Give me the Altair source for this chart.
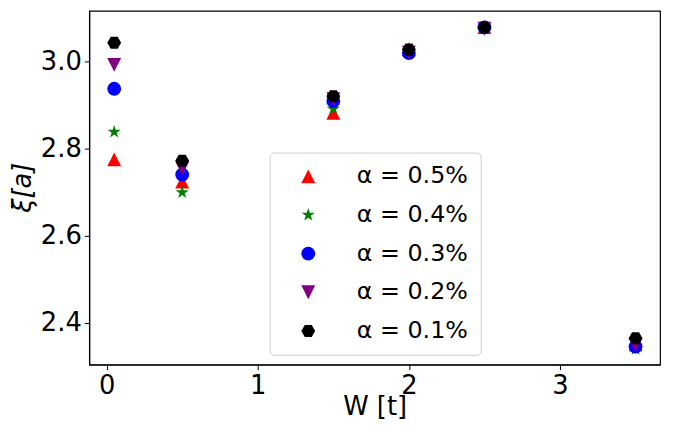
import altair as alt
import pandas as pd
import math

W = [0.05, 0.5, 1.5, 2.0, 2.5, 3.5]
a05 = [2.776, 2.725, 2.883, 3.029, 3.080, 2.351]
a04 = [2.839, 2.700, 2.892, 3.025, 3.078, 2.340]
a03 = [2.938, 2.741, 2.910, 3.020, 3.079, 2.346]
a02 = [2.993, 2.755, 2.914, 3.021, 3.076, 2.349]
a01 = [3.044, 2.773, 2.921, 3.028, 3.079, 2.365]

labels = ["α = 0.5%", "α = 0.4%", "α = 0.3%", "α = 0.2%", "α = 0.1%"]
colors = ["red", "green", "blue", "purple", "black"]

# marker outlines in the unit box [-1, 1]
tri_up = "M0,-1L1,1L-1,1Z"
tri_down = "M0,1L1,-1L-1,-1Z"
circle = "circle"
star_pts = []
for k in range(10):
    r = 1.0 if k % 2 == 0 else 0.382
    ang = math.radians(-90 + 36 * k)
    star_pts.append(f"{r*math.cos(ang):.3f},{r*math.sin(ang):.3f}")
star = "M" + "L".join(star_pts) + "Z"
hex_pts = []
for k in range(6):
    ang = math.radians(60 * k)
    hex_pts.append(f"{math.cos(ang):.3f},{math.sin(ang):.3f}")
hexagon = "M" + "L".join(hex_pts) + "Z"
shapes = [tri_up, star, circle, tri_down, hexagon]

rows = []
for lab, vals in zip(labels, [a05, a04, a03, a02, a01]):
    for w, v in zip(W, vals):
        rows.append({"W": w, "xi": v, "series": lab})
df = pd.DataFrame(rows)

FONT = "DejaVu Sans"

chart = alt.Chart(df).mark_point(filled=True, opacity=1, size=196, strokeWidth=0).encode(
    x=alt.X("W:Q", scale=alt.Scale(domain=[-0.115, 3.662], nice=False, zero=False),
            axis=alt.Axis(title="W [t]", values=[0, 1, 2, 3], format="d", grid=False,
                          labelFontSize=26, titleFontSize=26, labelFont=FONT, titleFont=FONT,
                          titleFontWeight="normal", labelColor="black", titleColor="black",
                          tickColor="black", domainColor="black", tickSize=5, labelPadding=3,
                          titleBaseline="alphabetic", titleY=50)),
    y=alt.Y("xi:Q", scale=alt.Scale(domain=[2.3045, 3.117], nice=False, zero=False),
            axis=alt.Axis(title="ξ[a]", values=[2.4, 2.6, 2.8, 3.0], format=".1f", grid=False,
                          labelFontSize=26, titleFontSize=26, labelFont=FONT, titleFont=FONT,
                          titleFontWeight="normal", titleFontStyle="italic",
                          labelColor="black", titleColor="black",
                          tickColor="black", domainColor="black", tickSize=5, labelPadding=3,
                          titleX=-54, titleY=178)),
    color=alt.Color("series:N", scale=alt.Scale(domain=labels, range=colors),
                    legend=alt.Legend(title=None, orient="none", legendX=182, legendY=143,
                                      fillColor="white", strokeColor="#cccccc", cornerRadius=4,
                                      padding=12, labelFontSize=24, labelFont=FONT,
                                      labelColor="black", symbolSize=196, symbolOffset=15,
                                      labelOffset=37, rowPadding=15, symbolStrokeWidth=0)),
    shape=alt.Shape("series:N", scale=alt.Scale(domain=labels, range=shapes)),
).properties(
    width=576, height=357,
    padding={"left": 82, "top": 1, "right": 5, "bottom": 58},
    autosize=alt.AutoSizeParams(type="none"),
).configure_view(stroke="black", strokeWidth=1.2)

chart.save("out.html", embed_options={"renderer": "svg", "actions": False})
